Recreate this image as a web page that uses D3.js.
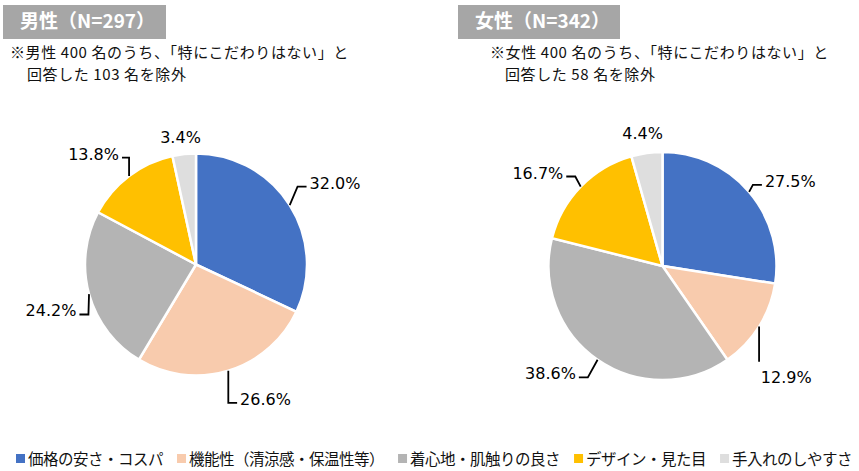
<!DOCTYPE html>
<html>
<head>
<meta charset="utf-8">
<script src="https://cdn.jsdelivr.net/npm/d3@7"></script>
<style>
  body { margin: 0; background: #fff; }
</style>
</head>
<body>
<div id="chart"></div>
<script>
// 項目（凡例の順）
const categories = ["価格の安さ・コスパ", "機能性（清涼感・保温性等）", "着心地・肌触りの良さ", "デザイン・見た目", "手入れのしやすさ"];
// 男性・女性の構成比（%）
const maleValues = [32.0, 26.6, 24.2, 13.8, 3.4];
const femaleValues = [27.5, 12.9, 38.6, 16.7, 4.4];
// 見出しと注記
const titles = ["男性（N=297）", "女性（N=342）"];
const notes = [
  ["※男性 400 名のうち、「特にこだわりはない」と", "回答した 103 名を除外"],
  ["※女性 400 名のうち、「特にこだわりはない」と", "回答した 58 名を除外"]
];

const width = 859;
const height = 471;

const svg = d3.select("#chart")
  .append("svg")
  .attr("width", width)
  .attr("height", height);

// 色分け
const color = d3.scaleOrdinal()
  .domain(categories)
  .range(["#4472c4", "#f8cbad", "#b4b4b4", "#ffc000", "#dedede"]);

// 円グラフごとの配置（ラベルは円弧の中心方向から少しずらす）
const panels = [
  {
    values: maleValues, title: titles[0], note: notes[0],
    cx: 196, cy: 264.5, r: 111,
    boxX: 3, boxW: 163, noteX: 10, note2X: 27,
    nudge: [[11.5, -1], [25.6, -10], [0.5, 5.7], [-11.4, 9.5], [0.6, 23]]
  },
  {
    values: femaleValues, title: titles[1], note: notes[1],
    cx: 662.5, cy: 266, r: 114,
    boxX: 458, boxW: 162, noteX: 490, note2X: 505,
    nudge: [[10, 15.7], [-7.6, 28.4], [-23.8, -20.1], [-13.4, 14.5], [1.4, 20.9]]
  }
];

const pie = d3.pie()
  .value(d => d.v)
  .sort(null);

panels.forEach(p => {
  // 見出しの帯
  svg.append("rect")
    .attr("x", p.boxX)
    .attr("y", 5)
    .attr("width", p.boxW)
    .attr("height", 34)
    .attr("fill", "#a6a6a6");

  svg.append("text")
    .attr("x", p.boxX + 17)
    .attr("y", 28)
    .style("font-family", "'Noto Sans CJK JP', sans-serif")
    .style("font-size", "19px")
    .style("font-weight", "bold")
    .attr("fill", "#fff")
    .text(p.title);

  // 注記
  const note = svg.append("text")
    .style("font-family", "'Noto Sans CJK JP', sans-serif")
    .style("font-size", "15px")
    .style("letter-spacing", "0.6px")
    .attr("fill", "#111");
  note.append("tspan")
    .attr("x", p.noteX)
    .attr("y", 58)
    .text(p.note[0]);
  note.append("tspan")
    .attr("x", p.note2X)
    .attr("y", 80)
    .text(p.note[1]);

  const data = categories.map((c, i) => ({ key: c, v: p.values[i] }));

  const g = svg.append("g")
    .attr("transform", `translate(${p.cx},${p.cy})`);

  const arc = d3.arc().innerRadius(0).outerRadius(p.r);
  const edge = d3.arc().innerRadius(p.r).outerRadius(p.r);
  const labelArc = d3.arc().innerRadius(p.r * 1.36).outerRadius(p.r * 1.36);

  const slices = pie(data);

  g.selectAll(".pie")
    .data(slices)
    .enter()
    .append("path")
    .attr("class", "pie")
    .attr("d", arc)
    .attr("fill", d => color(d.data.key))
    .attr("stroke", "white")
    .attr("stroke-width", 2.5);

  // ラベルと引き出し線
  slices.forEach((d, i) => {
    const c = labelArc.centroid(d);
    const lx = c[0] + p.nudge[i][0];
    const ly = c[1] + p.nudge[i][1];

    const t = g.append("text")
      .attr("x", lx)
      .attr("y", ly + 6)
      .attr("text-anchor", "middle")
      .style("font-family", "'DejaVu Sans', Verdana, sans-serif")
      .style("font-size", "16px")
      .attr("fill", "#000")
      .text(d.data.v.toFixed(1) + "%");

    const w = t.node().getBBox().width;
    const x0 = lx - w / 2, x1 = lx + w / 2, y0 = ly - 9, y1 = ly + 9;
    const E = edge.centroid(d);
    const nx = Math.max(x0, Math.min(x1, E[0]));
    const ny = Math.max(y0, Math.min(y1, E[1]));
    const dist = Math.hypot(E[0] - nx, E[1] - ny);
    if (dist <= 14) return;

    let pts;
    if (E[0] >= x0 - 4 && E[0] <= x1 + 4) {
      // 上下から接続
      const ty = E[1] < y0 ? y0 - 6 : y1 + 6;
      pts = [E, [E[0], ty]];
    } else {
      const left = E[0] < x0;
      const side = left ? x0 - 3 : x1 + 3;
      const ay = ly + 4;
      let kx = left ? side - 9 : side + 9;
      if ((E[0] - side) * (E[0] - kx) < 0) kx = E[0];
      pts = [E, [kx, ay], [side, ay]];
    }

    g.append("path")
      .attr("d", d3.line()(pts))
      .attr("fill", "none")
      .attr("stroke", "#000")
      .attr("stroke-width", 1.8);
  });
});

// 凡例
const legend = svg.append("g").attr("class", "legend");
let lx = 16;
categories.forEach(c => {
  legend.append("rect")
    .attr("x", lx)
    .attr("y", 454)
    .attr("width", 9)
    .attr("height", 9)
    .attr("fill", color(c));

  const t = legend.append("text")
    .attr("x", lx + 12)
    .attr("y", 465)
    .style("font-family", "'Noto Sans CJK JP', sans-serif")
    .style("font-size", "15.5px")
    .style("letter-spacing", "-0.5px")
    .attr("fill", "#111")
    .text(c);

  lx += 12 + t.node().getComputedTextLength() + 14;
});
</script>
</body>
</html>
